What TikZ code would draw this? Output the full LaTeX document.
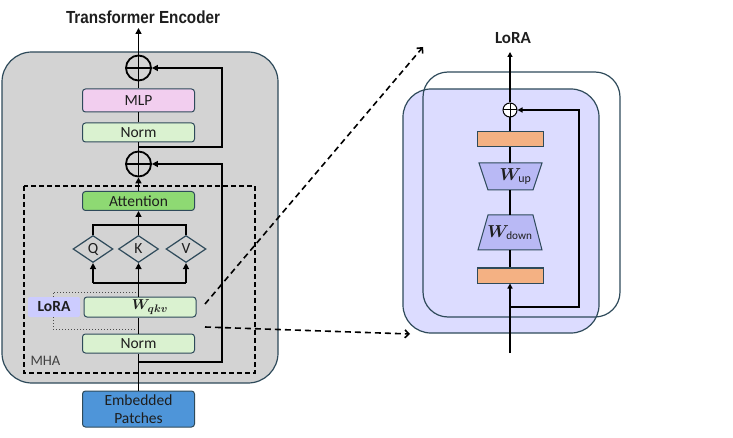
\documentclass[tikz,border=0pt]{standalone}
\usepackage{fontspec}
\usepackage{bm}
\setmainfont{Carlito}
\newfontfamily\titlefont[FakeStretch=0.87]{Liberation Sans}
\usetikzlibrary{arrows.meta,shapes.geometric}
\definecolor{bggray}{HTML}{D3D3D3}
\definecolor{edge}{HTML}{2E4A5A}
\definecolor{txt}{HTML}{1E1E1E}
\definecolor{mlpc}{HTML}{F2CEEF}
\definecolor{normc}{HTML}{DAF2D0}
\definecolor{attc}{HTML}{8ED973}
\definecolor{embc}{HTML}{4E95D9}
\definecolor{lorac}{HTML}{CCCCFF}
\definecolor{lorabg}{HTML}{DCDCFF}
\definecolor{trapc}{HTML}{B9B9F5}
\definecolor{orc}{HTML}{F4B183}
\begin{document}
\begin{tikzpicture}[x=1pt,y=-1pt,
  box/.style={draw=edge, line width=1pt, rounded corners=3pt, minimum width=112pt, inner sep=0pt, text=txt, font=\fontsize{15.5}{16}\selectfont},
  thk/.style={line width=1.8pt, line join=miter},
  thn/.style={line width=1.3pt},
  arr/.style={-{Triangle[length=6pt,width=6pt]}},
  arrs/.style={-{Triangle[length=5pt,width=5pt]}},
  dsh/.style={line width=1.6pt, dash pattern=on 6pt off 4pt, -{Straight Barb[length=4pt,width=8pt,line width=1.6pt]}},
  dia/.style={diamond, draw=edge, line width=1.2pt, minimum width=40pt, minimum height=27pt, inner sep=0pt, text=txt, font=\fontsize{15.5}{16}\selectfont},
  oplus/.style={circle, draw, inner sep=0pt, path picture={\draw[line width=#1] (path picture bounding box.north)--(path picture bounding box.south) (path picture bounding box.west)--(path picture bounding box.east);}},
  trapfill/.style={draw=edge, line width=1pt, fill=trapc, line join=miter},
  traplbl/.style={inner sep=0pt, minimum width=46pt, text=txt},
  obox/.style={draw=edge, line width=1pt, fill=orc, minimum width=66pt, minimum height=15pt, inner sep=0pt},
  bold/.style={font=\fontsize{17}{18}\selectfont\bfseries, text=txt}
]
\useasboundingbox (0,0) rectangle (733,438);

% ---------- left: transformer encoder ----------
\draw[draw=edge, line width=1.2pt, fill=bggray, rounded corners=30pt] (2,52) rectangle (278,383);
\draw[line width=1.6pt, dash pattern=on 5pt off 3pt] (24,186) rectangle (255,373);
\node[anchor=west, text=txt!85, font=\fontsize{14.5}{15}\selectfont] (mha) at (27,361) {MHA};

\node[font=\titlefont\fontsize{17.5}{18}\selectfont\bfseries, text=txt] (title) at (143,17) {Transformer Encoder};

\node[oplus=1.6pt, line width=1.8pt, minimum size=25pt] (o1) at (138.5,68) {};
\node[oplus=1.6pt, line width=1.8pt, minimum size=25pt] (o2) at (138.5,164) {};

\node[box, fill=mlpc, minimum height=23pt] (mlp) at (138.5,100.5) {MLP};
\node[box, fill=normc, minimum height=19pt] (norm1) at (138.5,132.5) {Norm};
\node[box, fill=attc, minimum height=19pt] (att) at (138.5,201) {Attention};
\node[dia] (q) at (93,249) {Q};
\node[dia] (k) at (138.5,249) {K};
\node[dia] (v) at (186,249) {V};
\node[box, fill=normc, minimum height=20pt, font=\fontsize{15.5}{16}\selectfont] (wqkv) at (140,307) {\hspace*{20pt}$\bm{W}_{\bm{qkv}}$};
\node[box, fill=normc, minimum height=19pt] (norm2) at (138.5,343.5) {Norm};
\node[box, fill=embc, minimum height=36pt, align=center, font=\fontsize{15.5}{18.5}\selectfont] (emb) at (138.5,409) {Embedded\\Patches};
\node[fill=lorac, rounded corners=2pt, minimum width=52pt, minimum height=20pt, inner sep=0pt, font=\fontsize{15.5}{16}\selectfont\bfseries, text=txt] (loratag) at (54,307) {LoRA};

\coordinate (b1) at (138.5,147);
\coordinate (b2) at (138.5,362);
\coordinate (hq) at (93,283);
\coordinate (hk) at (138.5,283);
\coordinate (hv) at (186,283);
\coordinate (tq) at (93,225);
\coordinate (tv) at (186,225);
\coordinate (top) at (138.5,28);

% main path
\draw[thk] (emb.north) -- (norm2.south -| emb.north);
\draw[thk] (norm2.north) -- (norm2.north |- wqkv.south);
\draw[thk] (wqkv.north -| hk) -- (hk);
\draw[thk] (hq) -- (hv);
\draw[thk,arr] (hq) -- (q.south);
\draw[thk,arr] (hk) -- (k.south);
\draw[thk,arr] (hv) -- (v.south);
\draw[thk] (q.north) |- (tq) -- (tv) -- (v.north);
\draw[thk,arr] (k.north) -- (att.south);
\draw[thk,arr] (att.north) -- (o2.south);
\draw[thk] (o2.north) -- (norm1.south);
\draw[thk] (norm1.north) -- (mlp.south);
\draw[thk] (mlp.north) -- (o1.south);
\draw[thk,arr] (o1.north) -- (top);
% residuals
\draw[thk,arr] (b1) -- ++(83.5,0) |- (o1.east);
\draw[thk,arr] (b2) -- ++(83.5,0) |- (o2.east);
% LoRA dotted
\draw[line width=1pt, dotted, draw=txt!80] (loratag.north -| 53,0) |- (137,292);
\draw[line width=1pt, dotted, draw=txt!80] (loratag.south -| 53,0) |- (137,329);

% ---------- dashed zoom arrows ----------
\coordinate (d1s) at (205,304);
\coordinate (d1e) at (423,47);
\coordinate (d2s) at (205,327);
\coordinate (d2e) at (410,334);
\draw[dsh] (d1s) -- (d1e);
\draw[dsh] (d2s) -- (d2e);

% ---------- right: LoRA ----------
\draw[draw=edge, line width=1.2pt, fill=lorabg, rounded corners=28pt] (403,89) rectangle (599,333);
\draw[draw=edge, line width=1.2pt, rounded corners=25pt] (423,72) rectangle (620,317);

\node[bold] (loralbl) at (513,38) {LoRA};
\node[oplus=1pt, line width=1pt, minimum size=14pt, fill=white] (s) at (510,110) {};
\node[obox] (ot) at (510,139.5) {};
\draw[trapfill] (479,163) -- (542,163) -- (533,190) -- (488,190) -- cycle;
\node[traplbl, minimum height=27pt, font=\fontsize{17}{17}\selectfont] (wup) at (510.5,176.5) {\hspace*{10pt}$\bm{W}_{\mathrm{up}}$};
\draw[trapfill] (488,215) -- (533,215) -- (542,250) -- (478,250) -- cycle;
\node[traplbl, minimum height=35pt, font=\fontsize{16}{16}\selectfont] (wdown) at (510,232.5) {$\bm{W}_{\mathrm{down}}$};
\node[obox] (ob) at (510,275.5) {};

\coordinate (in) at (510,353);
\coordinate (b3) at (510,307);
\coordinate (outr) at (510,52);

\draw[thn,arrs] (in) -- (ob.south);
\draw[thn] (ob.north) -- (wdown.south -| ob.north);
\draw[thn] (wdown.north -| ob.north) -- (wup.south -| ob.north);
\draw[thn] (wup.north -| ob.north) -- (ot.south);
\draw[thn] (ot.north) -- (s.south);
\draw[thn,arrs] (s.north) -- (outr);
\draw[thn,arrs] (b3) -- ++(69,0) |- (s.east);
\end{tikzpicture}
\end{document}
